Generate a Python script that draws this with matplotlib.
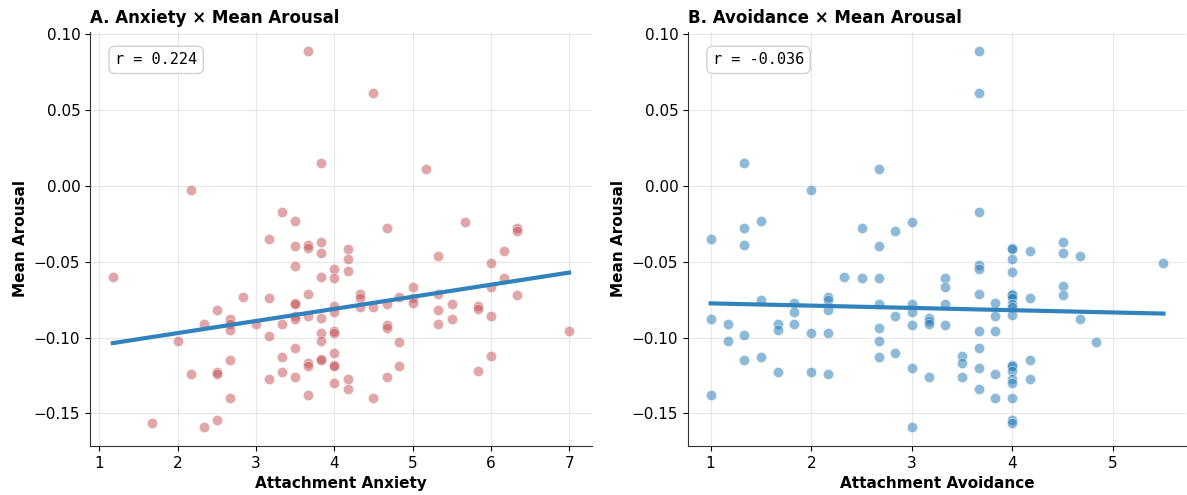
import numpy as np
import matplotlib
matplotlib.use('Agg')
import matplotlib.pyplot as plt

# Panel A: attachment anxiety vs mean arousal
anx_x = [1.17, 3.17, 3.5, 3.67, 3.67, 3.83, 3.83, 4.17, 4.17, 4.17,
         3.5, 4.0, 4.0, 3.83, 3.67, 2.83, 3.17, 3.5, 3.5, 4.0,
         4.0, 2.5, 2.33, 2.67, 2.67, 2.67, 3.0, 3.33, 3.5, 3.5,
         3.67, 3.83, 3.83, 3.83, 4.0, 4.0, 2.0, 3.17, 3.5, 3.33,
         2.67, 3.67, 3.67, 3.83, 3.83, 4.0, 4.0, 4.0, 2.17, 2.5,
         2.5, 3.17, 3.33, 3.5, 4.0, 4.17, 4.17, 3.67, 2.67, 1.67,
         2.33, 2.5, 3.67, 3.83, 2.17, 3.33, 3.5, 4.5, 5.17, 4.67,
         5.67, 6.33, 6.33, 5.33, 6.17, 6.0, 6.0, 6.17, 6.33, 5.0,
         5.0, 5.0, 4.33, 4.33, 4.33, 4.5, 4.67, 4.83, 5.33, 5.33,
         5.5, 5.5, 5.33, 5.83, 5.83, 6.0, 4.67, 4.67, 4.83, 7.0,
         6.0, 5.83, 4.83, 4.67, 4.5]
anx_y = [-0.060, -0.035, -0.040, -0.039, -0.041, -0.037, -0.044, -0.042, -0.048, -0.056,
         -0.053, -0.055, -0.061, -0.060, -0.071, -0.073, -0.074, -0.077, -0.078, -0.079,
         -0.083, -0.082, -0.091, -0.088, -0.091, -0.095, -0.091, -0.091, -0.086, -0.088,
         -0.086, -0.087, -0.097, -0.102, -0.096, -0.097, -0.102, -0.099, -0.107, -0.113,
         -0.115, -0.117, -0.119, -0.114, -0.115, -0.110, -0.118, -0.119, -0.124, -0.123,
         -0.124, -0.127, -0.123, -0.126, -0.130, -0.127, -0.134, -0.138, -0.140, -0.156,
         -0.159, -0.154, 0.089, 0.015, -0.003, -0.017, -0.023, 0.061, 0.011, -0.028,
         -0.024, -0.028, -0.030, -0.046, -0.043, -0.051, -0.067, -0.061, -0.072, -0.067,
         -0.074, -0.077, -0.071, -0.074, -0.080, -0.080, -0.078, -0.073, -0.071, -0.082,
         -0.078, -0.088, -0.091, -0.079, -0.081, -0.086, -0.092, -0.094, -0.103, -0.096,
         -0.112, -0.122, -0.119, -0.126, -0.140]

# Panel B: attachment avoidance vs mean arousal
avo_x = [1.33, 2.67, 2.0, 1.5, 1.33, 2.5, 2.83, 3.0, 1.0, 3.67,
         3.67, 3.67, 1.33, 2.67, 2.33, 2.5, 2.67, 1.5, 1.83, 1.83,
         2.17, 2.17, 2.17, 2.67, 3.0, 3.0, 2.83, 3.17, 3.17, 3.17,
         3.33, 3.33, 3.33, 3.33, 1.0, 1.17, 1.17, 1.33, 1.33, 1.5,
         1.67, 1.67, 1.67, 1.83, 2.0, 2.0, 2.17, 2.17, 2.67, 2.67,
         2.67, 2.83, 3.0, 3.17, 1.0, 3.0, 3.0, 3.67, 3.67, 3.67,
         3.67, 3.67, 3.67, 3.67, 3.5, 3.5, 3.5, 3.83, 3.83, 3.83,
         3.83, 3.83, 4.0, 4.0, 4.0, 4.0, 4.0, 4.0, 4.0, 4.0,
         4.0, 4.0, 4.0, 4.0, 4.0, 4.0, 4.0, 4.0, 4.0, 4.0,
         4.17, 4.17, 4.17, 4.17, 4.5, 4.5, 4.67, 4.5, 4.5, 4.67,
         4.83, 5.5]
avo_y = [0.015, 0.011, -0.003, -0.023, -0.028, -0.028, -0.030, -0.024, -0.035, 0.089,
         0.061, -0.017, -0.039, -0.040, -0.060, -0.061, -0.061, -0.075, -0.077, -0.083,
         -0.073, -0.075, -0.082, -0.078, -0.078, -0.083, -0.086, -0.087, -0.089, -0.091,
         -0.061, -0.067, -0.078, -0.092, -0.088, -0.091, -0.102, -0.098, -0.115, -0.113,
         -0.091, -0.095, -0.123, -0.091, -0.097, -0.123, -0.097, -0.124, -0.094, -0.102,
         -0.113, -0.110, -0.120, -0.126, -0.138, -0.159, -0.092, -0.052, -0.055, -0.071,
         -0.096, -0.107, -0.120, -0.134, -0.112, -0.117, -0.126, -0.077, -0.086, -0.096,
         -0.124, -0.140, -0.041, -0.042, -0.048, -0.057, -0.071, -0.072, -0.074, -0.078,
         -0.080, -0.085, -0.118, -0.119, -0.122, -0.127, -0.130, -0.140, -0.154, -0.156,
         -0.043, -0.074, -0.115, -0.127, -0.037, -0.044, -0.046, -0.066, -0.072, -0.088,
         -0.103, -0.051]

r_values = [0.224, -0.036]
titles = ['A. Anxiety × Mean Arousal', 'B. Avoidance × Mean Arousal']
xlabels = ['Attachment Anxiety', 'Attachment Avoidance']
point_colors = ['#c44e52', '#1f77b4']
line_color = '#3182bd'

fig = plt.figure(figsize=(11.87, 4.95), dpi=100)
ax_a = fig.add_axes([0.0758, 0.099, 0.4229, 0.837])
ax_b = fig.add_axes([0.5796, 0.099, 0.4196, 0.837])

panels = [(ax_a, anx_x, anx_y), (ax_b, avo_x, avo_y)]
for i, (ax, xs, ys) in enumerate(panels):
    xs = np.array(xs)
    ys = np.array(ys)
    ax.scatter(xs, ys, s=55, color=point_colors[i], alpha=0.5,
               edgecolors='white', linewidths=0.6, zorder=2)
    # least-squares fit line over the observed x range
    slope, icpt = np.polyfit(xs, ys, 1)
    xx = np.array([xs.min(), xs.max()])
    ax.plot(xx, slope * xx + icpt, color=line_color, linewidth=3, zorder=3)

    ax.text(0.05, 0.95, f'r = {r_values[i]:.3f}', transform=ax.transAxes,
            va='top', ha='left', fontsize=11, family='monospace',
            bbox=dict(boxstyle='round,pad=0.4', facecolor='white',
                      edgecolor='#cccccc', alpha=0.9))

    ax.set_title(titles[i], loc='left', fontsize=12, fontweight='bold', pad=6)
    ax.set_xlabel(xlabels[i], fontsize=11, fontweight='bold')
    ax.set_ylabel('Mean Arousal', fontsize=11, fontweight='bold')
    ax.tick_params(labelsize=11)
    ax.grid(True, alpha=0.3)
    ax.set_axisbelow(True)
    ax.spines['top'].set_visible(False)
    ax.spines['right'].set_visible(False)
    for side in ['left', 'bottom']:
        ax.spines[side].set_color('#333333')
    ax.set_yticks([-0.15, -0.10, -0.05, 0.00, 0.05, 0.10])
    ax.set_yticklabels(['−0.15', '−0.10', '−0.05', '0.00', '0.05', '0.10'])

fig.savefig('out.png', dpi=100)
